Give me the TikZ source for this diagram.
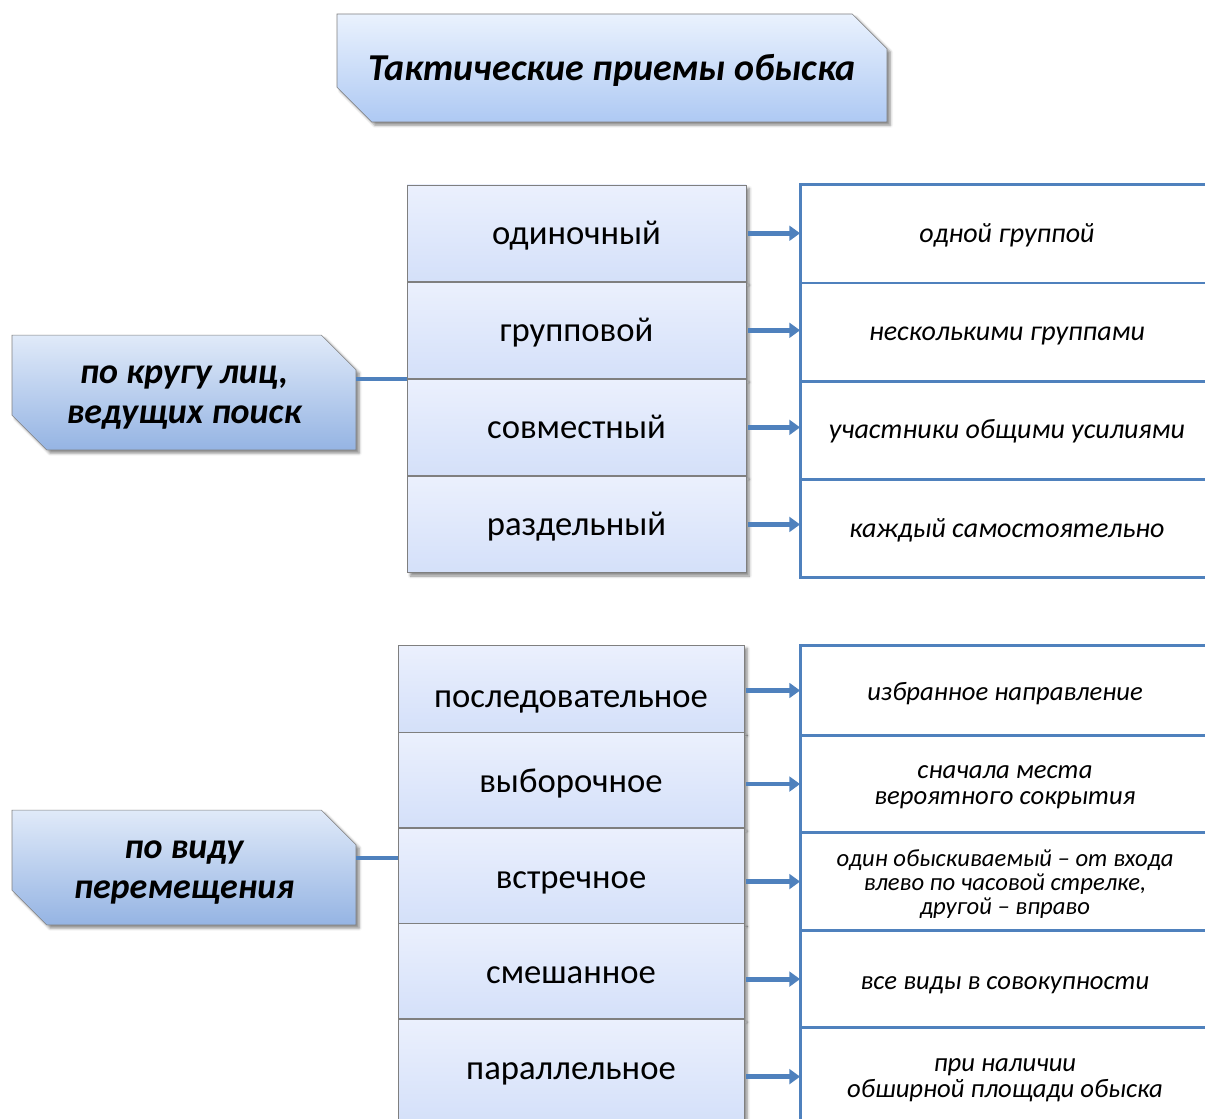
\documentclass[tikz,border=0pt]{standalone}
\usepackage{fontspec}
\setmainfont{Carlito}
\usetikzlibrary{arrows.meta,positioning,shapes.misc,shadows.blur}

\definecolor{lineblue}{HTML}{4F81BD}
\definecolor{boxgray}{HTML}{7F7F7F}
\definecolor{headtop}{HTML}{EAF2FE}
\definecolor{headbot}{HTML}{AEC9F3}
\definecolor{sidetop}{HTML}{E0EAF9}
\definecolor{sidebot}{HTML}{95B4E3}
\definecolor{midtop}{HTML}{EBF0FD}
\definecolor{midbot}{HTML}{D4E0F9}

\tikzset{
  shade/.style={blur shadow={shadow xshift=2.5pt,shadow yshift=-2.5pt,shadow blur radius=2pt,shadow opacity=45}},
  headbox/.style={chamfered rectangle,chamfered rectangle corners={north east,south west},
    chamfered rectangle xsep=13pt,chamfered rectangle ysep=13pt,draw=boxgray,
    inner sep=0pt,align=center,shade},
  sidebox/.style={headbox,minimum width=258pt,minimum height=86pt,top color=sidetop,bottom color=sidebot,
    font=\fontsize{27}{29.5}\bfseries\itshape\selectfont,text height=48pt,text depth=2.2pt},
  midbox/.style={rectangle,draw=boxgray,top color=midtop,bottom color=midbot,
    inner sep=0pt,align=center,shade,font=\fontsize{26}{30}\selectfont,text height=22.7pt,text depth=6.2pt},
  lowbox/.style={midbox,minimum width=259.5pt,text height=22.9pt,text depth=3.6pt},
  upbox/.style={rectangle,inner sep=0pt,align=center,minimum width=309pt,minimum height=73.3pt,
    font=\fontsize{21}{24}\itshape\selectfont,
    execute at begin node={\rule{0pt}{18.3pt}},execute at end node={\rule[-5.7pt]{0pt}{5.7pt}}},
  dnbox/.style={rectangle,inner sep=0pt,align=center,minimum width=306pt,minimum height=72.75pt,
    font=\fontsize{20}{19.5}\itshape\selectfont,
    execute at begin node={\rule{0pt}{18.9pt}},execute at end node={\rule[-2.1pt]{0pt}{2.1pt}}},
  rline/.style={draw=lineblue,line width=2.2pt},
  arr/.style={->,draw=lineblue,line width=3.6pt,shorten <=1.5pt,shorten >=0.5pt},
  link/.style={draw=lineblue,line width=3pt}
}

\begin{document}
\begin{tikzpicture}[x=0.75pt,y=-0.75pt,>={Triangle[length=8pt,width=11pt]},node distance=0pt]
\useasboundingbox (0,0) rectangle (1205,1119);

% heading
\node[headbox,minimum width=412.5pt,minimum height=81pt,top color=headtop,bottom color=headbot,
  text height=26pt,text depth=6.8pt,font=\fontsize{28.5}{34}\bfseries\itshape\selectfont] (T) at (612,68) {Тактические приемы обыска};

% left groups
\node[sidebox] (K) at (184,392.5) {по кругу лиц,\\ведущих поиск};
\node[sidebox] (V) at (184,867.5) {по виду\\перемещения};

% first column
\node[midbox,minimum width=254.25pt,minimum height=72.4pt] (A1) at (576.5,233.25) {одиночный};
\node[midbox,minimum width=254.25pt,minimum height=72.4pt,below=of A1] (A2) {групповой};
\node[midbox,minimum width=254.25pt,minimum height=72.4pt,below=of A2] (A3) {совместный};
\node[midbox,minimum width=254.25pt,minimum height=72.4pt,below=of A3] (A4) {раздельный};

\node[upbox] (B1) at (1007,233.9) {одной группой};
\node[upbox,below=of B1] (B2) {несколькими группами};
\node[upbox,below=of B2] (B3) {участники общими усилиями};
\node[upbox,below=of B3] (B4) {каждый самостоятельно};

% second column
\node[lowbox,minimum height=65.25pt,text height=31.9pt] (C1) at (571,688.5) {последовательное};
\node[lowbox,minimum height=71.25pt,below=of C1] (C2) {выборочное};
\node[lowbox,minimum height=71.25pt,below=of C2] (C3) {встречное};
\node[lowbox,minimum height=71.25pt,below=of C3] (C4) {смешанное};
\node[lowbox,minimum height=78pt,text height=15.4pt,below=of C4] (C5) {параллельное};

\node[dnbox,minimum height=66.75pt] (D1) at (1005,690.5) {избранное направление};
\node[dnbox,text height=33pt,text depth=2pt,below=of D1] (D2) {сначала места\\вероятного сокрытия};
\node[dnbox,font=\fontsize{18.5}{18}\itshape\selectfont,text height=51pt,text depth=1.5pt,below=of D2] (D3) {один обыскиваемый – от входа\\влево по часовой стрелке,\\другой – вправо};
\node[dnbox,execute at begin node={\rule{0pt}{17.4pt}},below=of D3] (D4) {все виды в совокупности};
\node[dnbox,text height=33pt,text depth=2pt,below=of D4] (D5) {при наличии\\обширной площади обыска};

% right frames
\foreach \n in {B1,B2,B3,B4,D1,D2,D3,D4,D5}
  \draw[rline] (\n.north east) -- (\n.north west) -- (\n.south west) -- (\n.south east);

% arrows
\foreach \i in {1,...,4}
  \draw[arr] (A\i.east) -- (A\i.east -| B\i.west);
\foreach \i in {1,...,5}
  \draw[arr] (C\i.east |- D\i.west) -- (D\i.west);

% links
\draw[link] (K.east |- A2.south west) -- (A2.south west);
\draw[link] ([yshift=7pt]V.east) -- ([yshift=7pt]V.east -| C3.west);
\end{tikzpicture}
\end{document}
